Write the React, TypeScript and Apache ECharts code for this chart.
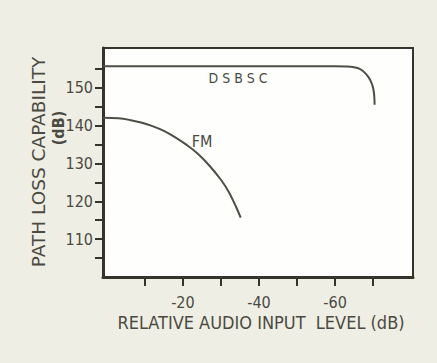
import React, { useEffect, useRef } from "react";
import * as echarts from "echarts";

const yTickValues = [105, 110, 115, 120, 125, 130, 135, 140, 145, 150, 155];
const yLabelValues = [110, 120, 130, 140, 150];
const xTickValues = [-10, -20, -30, -40, -50, -60, -70];
const xLabelValues = [-20, -40, -60];

const dsbscX = [1, -20, -40, -60, -63, -65, -66.5, -67.8, -68.8, -69.5, -70, -70.3, -70.4];
const dsbscY = [155.7, 155.7, 155.7, 155.7, 155.6, 155.4, 155, 154, 152.8, 151.5, 150, 148, 145.5];

const fmX = [1, -3, -6, -9, -12, -15, -18, -21, -24, -27, -30, -32, -34, -35.2];
const fmY = [142.1, 141.95, 141.5, 140.8, 139.85, 138.6, 136.9, 134.9, 132.5, 129.4, 125.7, 122.6, 118.5, 115.7];

const FONT = "DejaVu Sans Condensed";
const TITLE_FONT = "DejaVu Sans";
const INK = "#34342c";
const TEXT = "#4a4a42";
const CURVE = "#4e4e47";

export default function App() {
  const ref = useRef<HTMLDivElement>(null);
  useEffect(() => {
    if (!ref.current) return;
    const chart = echarts.init(ref.current, null, { renderer: "svg" });
    chart.setOption({
      animation: false,
      backgroundColor: "#efeee4",
      grid: {
        left: 103,
        right: 24,
        top: 48,
        bottom: 86,
        show: true,
        backgroundColor: "#fefefc",
        borderColor: INK,
        borderWidth: 2,
      },
      xAxis: {
        type: "value",
        min: -80.5,
        max: 1,
        inverse: true,
        axisLine: { show: true, onZero: false, lineStyle: { color: INK, width: 3 } },
        axisTick: {
          show: true,
          inside: false,
          customValues: xTickValues,
          length: 9,
          lineStyle: { color: INK, width: 2 },
        },
        axisLabel: {
          customValues: xLabelValues,
          fontFamily: FONT,
          fontSize: 16,
          color: TEXT,
          margin: 17,
        },
        splitLine: { show: false },
      },
      yAxis: {
        type: "value",
        min: 100,
        max: 160.5,
        axisLine: { show: true, onZero: false, lineStyle: { color: INK, width: 3 } },
        axisTick: {
          show: true,
          inside: false,
          customValues: yTickValues,
          length: 8,
          lineStyle: { color: INK, width: 2 },
        },
        axisLabel: {
          customValues: yLabelValues,
          fontFamily: FONT,
          fontSize: 16,
          color: TEXT,
          margin: 10,
        },
        splitLine: { show: false },
      },
      series: [
        {
          type: "line",
          name: "DSBSC",
          data: dsbscX.map((x, i) => [x, dsbscY[i]]),
          smooth: 0.3,
          showSymbol: false,
          lineStyle: { color: CURVE, width: 2 },
        },
        {
          type: "line",
          name: "FM",
          data: fmX.map((x, i) => [x, fmY[i]]),
          smooth: 0.4,
          showSymbol: false,
          lineStyle: { color: CURVE, width: 2 },
        },
      ],
      graphic: [
        {
          type: "text",
          x: 38,
          y: 162,
          rotation: Math.PI / 2,
          style: {
            text: "PATH LOSS CAPABILITY",
            fontFamily: TITLE_FONT,
            fontSize: 18.5,
            fill: TEXT,
            align: "center",
            verticalAlign: "middle",
          },
        },
        {
          type: "text",
          x: 58,
          y: 128,
          rotation: Math.PI / 2,
          style: {
            text: "(dB)",
            fontFamily: FONT,
            fontSize: 16,
            fontWeight: "bold",
            fill: TEXT,
            align: "center",
            verticalAlign: "middle",
          },
        },
        {
          type: "text",
          x: 261,
          y: 322,
          style: {
            text: "RELATIVE AUDIO INPUT  LEVEL (dB)",
            fontFamily: FONT,
            fontSize: 18,
            fill: TEXT,
            align: "center",
            verticalAlign: "middle",
          },
        },
        {
          type: "text",
          x: 238,
          y: 78,
          style: {
            text: "D S B S C",
            fontFamily: FONT,
            fontSize: 14,
            fill: TEXT,
            align: "center",
            verticalAlign: "middle",
          },
        },
        {
          type: "text",
          x: 202,
          y: 141,
          style: {
            text: "FM",
            fontFamily: FONT,
            fontSize: 16,
            fill: TEXT,
            align: "center",
            verticalAlign: "middle",
          },
        },
      ],
    });
    return () => chart.dispose();
  }, []);
  return (
    <div
      ref={ref}
      style={{ position: "fixed", left: 0, top: 0, width: 437, height: 363 }}
    />
  );
}
